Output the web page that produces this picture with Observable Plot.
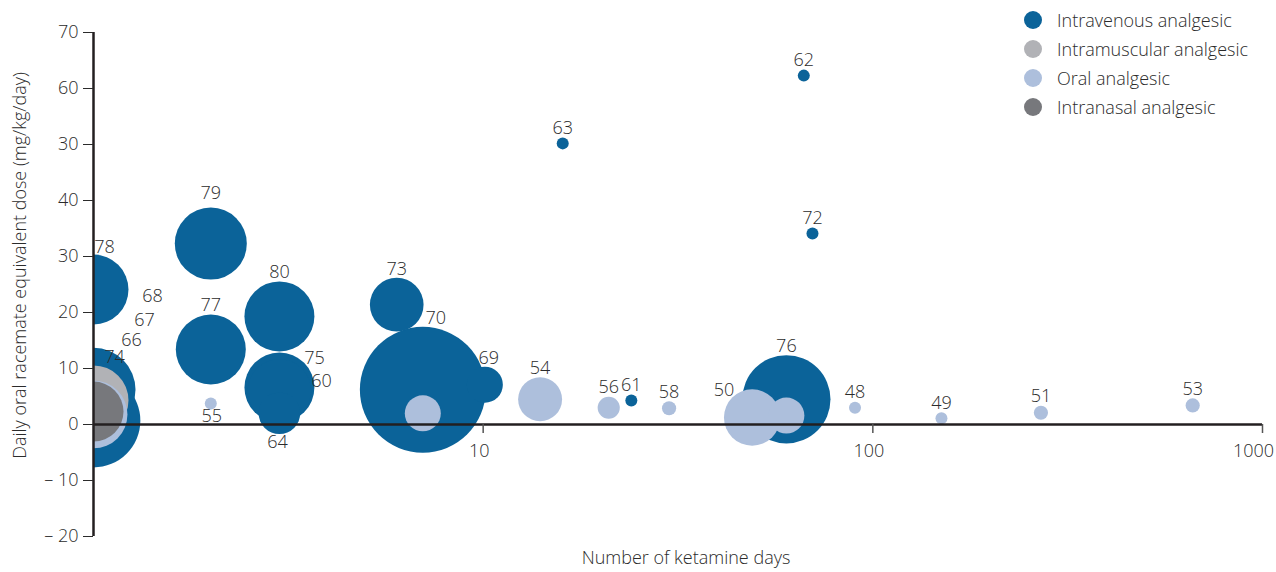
<!DOCTYPE html>
<html>
<head>
<meta charset="utf-8">
<script src="https://cdn.jsdelivr.net/npm/d3@7"></script>
<script src="https://cdn.jsdelivr.net/npm/@observablehq/plot@0.6"></script>
<style>
  body { margin: 0; background: #fff; font-family: "Open Sans", sans-serif; }
  #wrap { position: relative; width: 1276px; height: 572px; overflow: hidden; }
  #legend { position: absolute; left: 1024px; top: 5px; font-size: 18px; font-weight: 300; color: #2b2b2b; }
  #legend .item { display: flex; align-items: center; height: 29px; }
  #legend .sw { width: 18px; height: 18px; border-radius: 50%; margin-right: 15px; }
</style>
</head>
<body>
<div id="wrap"><div id="chart"></div><div id="legend"></div></div>
<script>
// ---- data ----
const routes = ["Intravenous analgesic", "Intramuscular analgesic", "Oral analgesic", "Intranasal analgesic"];
const routeColors = ["#0b6399", "#b1b2b6", "#adbfdc", "#77787c"];

const studyLabels = ["78","74","67","79","77","80","60","75","64","73","70","69","63","61","62","72","76",
                     "66",
                     "68","55","","54","56","58","50","","48","49","51","53",
                     ""];
const studyRoute  = [0,0,0,0,0,0,0,0,0,0,0,0,0,0,0,0,0,
                     1,
                     2,2,2,2,2,2,2,2,2,2,2,2,
                     3];
const ketamineDays = [1,1,1,2,2,3,3,3,3,6,7,10.1,16,24,66.5,70,60,
                      1,
                      1,2,7,14,21,30,49,60,90,150,270,662,
                      1];
const doseValue   = [24.1,6.2,0.7,32.3,13.4,19.3,6.0,6.6,2.0,21.4,6.2,7.1,50.2,4.3,62.3,34.1,4.5,
                     4.3,
                     1.8,3.75,2.0,4.5,3.0,2.9,1.25,1.6,3.0,1.1,2.1,3.4,
                     2.3];
const sampleSize  = [34,49,61,36,34,34,28,34,12,20,110,9,1,1,1,1,54,
                     34,
                     32,1,9,13.4,3.4,1.4,22,9,1,1,1.4,1.4,
                     25];

const xTickValues = [10, 100, 1000];
const yTickValues = [70, 60, 50, 40, 30, 20, 10, 0, -10, -20];
const yTickLabels = ["70", "60", "30", "40", "30", "20", "10", "0", "\u2013 10", "\u2013 20"];

const xTitle = "Number of ketamine days";
const yTitle = "Daily oral racemate equivalent dose (mg/kg/day)";

// ---- table ----
const table = studyLabels.map((label, i) => ({
  label, route: routes[studyRoute[i]], days: ketamineDays[i], dose: doseValue[i], size: sampleSize[i]
}));

const rOf = v => 6 * Math.sqrt(v); // same as r scale below
const labelPlacement = {
  "78": [11, -42], "74": [21, -33], "66": [38, -60], "67": [51, -100], "68": [59, -118],
  "55": [1, 13], "75": [35, -29], "60": [42, -10], "64": [-2, 29], "70": [13, -72],
  "69": [4, -27], "50": [-28, -27], "79": [0, -50]
};

const textColor = "#2b2b2b";
const fs = 18;
const labelMarks = table.filter(d => d.label).map(d => {
  const [dx, dy] = labelPlacement[d.label] || [0, -(rOf(d.size) + 9)];
  return Plot.text([d], {x: "days", y: "dose", text: "label", dx, dy, fill: textColor, fontSize: fs, fontWeight: 300});
});
const xTickLabelMarks = xTickValues.map(v =>
  Plot.text([v], {x: d => d, y: 0, dy: 27, dx: v === 1000 ? -9 : -4, text: d => String(d), fill: textColor, fontSize: fs, fontWeight: 300})
);

const chart = Plot.plot({
  width: 1276,
  height: 572,
  marginLeft: 93,
  marginRight: 14,
  marginTop: 32,
  marginBottom: 36,
  style: {fontFamily: "Open Sans, sans-serif", background: "#fff", overflow: "visible"},
  x: {type: "log", domain: [1, 1000], axis: null},
  y: {domain: [-20, 70], axis: null},
  r: {type: "sqrt", domain: [0, 100], range: [0, 60]},
  color: {domain: routes, range: routeColors},
  marks: [
    Plot.dot(table, {x: "days", y: "dose", r: "size", fill: "route", clip: true}),
    Plot.ruleY([0], {stroke: "#231f20", strokeWidth: 2.5}),
    Plot.ruleX([1], {stroke: "#231f20", strokeWidth: 2.5}),
    Plot.ruleX(xTickValues, {y1: 0, y2: 0, insetBottom: -9, stroke: "#555", strokeWidth: 1.5}),
    ...xTickLabelMarks,
    Plot.axisY(yTickValues, {tickFormat: d => yTickLabels[yTickValues.indexOf(d)], tickSize: 10, tickPadding: 5, label: null, fontSize: fs, fontWeight: 300, color: textColor}),
    ...labelMarks,
    Plot.text([xTitle], {frameAnchor: "bottom", dy: 27, dx: 8, fill: textColor, fontSize: fs, fontWeight: 300}),
    Plot.text([yTitle], {frameAnchor: "left", textAnchor: "middle", rotate: -90, dx: -73, dy: -19, fill: textColor, fontSize: fs, fontWeight: 300})
  ]
});
document.getElementById("chart").appendChild(chart);

const legend = d3.select("#legend");
routes.forEach((name, i) => {
  const item = legend.append("div").attr("class", "item");
  item.append("div").attr("class", "sw").style("background", routeColors[i]);
  item.append("span").text(name);
});
</script>
</body>
</html>
